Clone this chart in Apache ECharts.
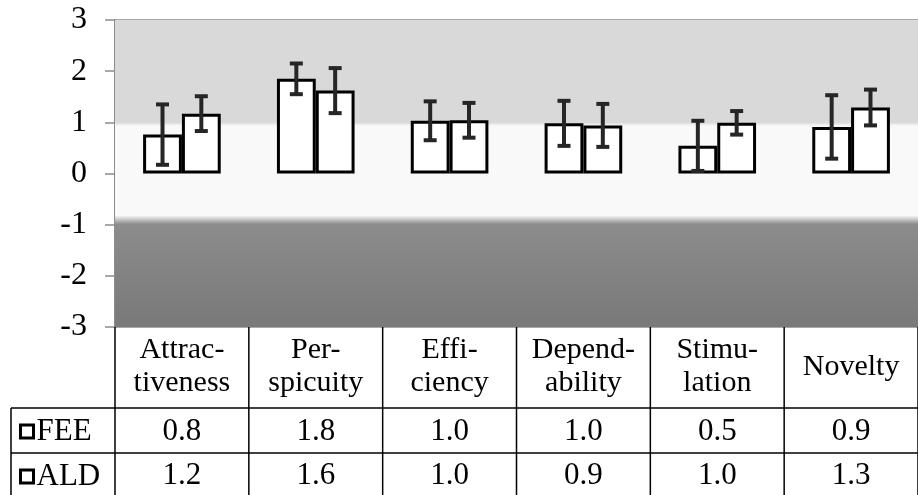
<!DOCTYPE html>
<html>
<head>
<meta charset="utf-8">
<script src="https://cdn.jsdelivr.net/npm/echarts@6/dist/echarts.min.js"></script>
<style>
html,body{margin:0;padding:0;background:#fff;}
#chart{width:918px;height:495px;}
</style>
</head>
<body>
<div id="chart"></div>
<script>
// ---- data ----
const categories = ['Attrac-\ntiveness', 'Per-\nspicuity', 'Effi-\nciency', 'Depend-\nability', 'Stimu-\nlation', 'Novelty'];
const seriesNames = ['FEE', 'ALD'];
const feeMean = [0.76, 1.85, 1.03, 0.98, 0.54, 0.91];
const feeErr  = [0.59, 0.30, 0.38, 0.44, 0.49, 0.62];
const aldMean = [1.17, 1.62, 1.04, 0.94, 0.99, 1.29];
const aldErr  = [0.34, 0.44, 0.34, 0.42, 0.23, 0.35];
const feeTable = ['0.8', '1.8', '1.0', '1.0', '0.5', '0.9'];
const aldTable = ['1.2', '1.6', '1.0', '0.9', '1.0', '1.3'];
const yMin = -3, yMax = 3, yInterval = 1;

// ---- layout / style ----
const FONT = 'Liberation Serif';
const gridLeft = 115, gridTop = 20, gridWidth = 810, gridHeight = 307;
const gridBottomY = gridTop + gridHeight;
const row1Top = 408, row2Top = 453, tableLeft = 11, tableRight = gridLeft + gridWidth, tableBottom = 500;
const barFrac = 0.29;

function off(v) { return (yMax - v) / (yMax - yMin); }
const bgGradient = {
  type: 'linear', x: 0, y: 0, x2: 0, y2: 1,
  colorStops: [
    { offset: 0, color: '#d9d9d9' },
    { offset: off(1.0), color: '#d9d9d9' },
    { offset: off(0.93), color: '#f9f9f9' },
    { offset: off(-0.82), color: '#f9f9f9' },
    { offset: off(-0.99), color: '#8c8c8c' },
    { offset: 1, color: '#797979' }
  ]
};

function errData(mean, err) {
  return mean.map((m, i) => [i, m - err[i], m + err[i]]);
}
function errRender(side) {
  return function (params, api) {
    const cat = api.value(0);
    const lo = api.coord([cat, api.value(1)]);
    const hi = api.coord([cat, api.value(2)]);
    const bw = api.size([1, 0])[0] * barFrac;
    const x = lo[0] + side * bw / 2;
    const cap = 6.5;
    const st = { stroke: '#262626', lineWidth: 4 };
    return {
      type: 'group',
      children: [
        { type: 'line', shape: { x1: x, y1: lo[1], x2: x, y2: hi[1] }, style: st },
        { type: 'line', shape: { x1: x - cap, y1: lo[1], x2: x + cap, y2: lo[1] }, style: st },
        { type: 'line', shape: { x1: x - cap, y1: hi[1], x2: x + cap, y2: hi[1] }, style: st }
      ]
    };
  };
}

const labelBase = { fontFamily: FONT, fontSize: 30, color: '#000' };
const numLabel = { fontFamily: FONT, fontSize: 31, color: '#000' };
const tableLine = { stroke: '#000', lineWidth: 1.5 };

const chart = echarts.init(document.getElementById('chart'), null, { renderer: 'canvas' });
chart.setOption({
  animation: false,
  backgroundColor: '#fff',
  grid: { left: gridLeft, top: gridTop, width: gridWidth, height: gridHeight, containLabel: false },
  legend: {
    data: seriesNames,
    orient: 'vertical',
    left: 19, top: 416,
    padding: 0,
    itemGap: 14,
    itemWidth: 13, itemHeight: 13,
    icon: 'rect',
    itemStyle: { color: '#fff', borderColor: '#000', borderWidth: 3 },
    textStyle: Object.assign({ lineHeight: 30, padding: [0, 0, 0, -2] }, labelBase, { fontSize: 31 })
  },
  xAxis: [
    {
      type: 'category', data: categories, position: 'bottom',
      axisLine: { lineStyle: { color: '#000', width: 1.5 } },
      axisTick: { show: false },
      axisLabel: Object.assign({ margin: 40, lineHeight: 33, verticalAlign: 'middle', interval: 0 }, labelBase),
      splitLine: { show: false }
    },
    {
      type: 'category', data: categories, position: 'bottom',
      axisLine: { show: false }, axisTick: { show: false },
      axisLabel: Object.assign({ margin: 105, verticalAlign: 'middle', interval: 0,
        formatter: (v, i) => feeTable[i] }, numLabel)
    },
    {
      type: 'category', data: categories, position: 'bottom',
      axisLine: { show: false }, axisTick: { show: false },
      axisLabel: Object.assign({ margin: 149, verticalAlign: 'middle', interval: 0,
        formatter: (v, i) => aldTable[i] }, numLabel)
    }
  ],
  yAxis: {
    type: 'value', min: yMin, max: yMax, interval: yInterval,
    axisLine: { show: true, lineStyle: { color: '#8c8c8c', width: 2 } },
    axisTick: { show: true, length: 10, lineStyle: { color: '#8c8c8c', width: 1.5 } },
    axisLabel: Object.assign({ margin: 28 }, numLabel, { fontSize: 32 }),
    splitLine: { show: true, lineStyle: { color: '#8c8c8c', width: 1.5 } }
  },
  series: [
    {
      name: 'bg', type: 'line', data: [], z: -1, silent: true,
      markArea: { silent: true, itemStyle: { color: bgGradient }, data: [[{ yAxis: yMax }, { yAxis: yMin }]] }
    },
    {
      name: seriesNames[0], type: 'bar', data: feeMean, barWidth: (barFrac * 100) + '%', barGap: '0%',
      itemStyle: { color: '#fff', borderColor: '#000', borderWidth: 3 }
    },
    {
      name: seriesNames[1], type: 'bar', data: aldMean, barWidth: (barFrac * 100) + '%', barGap: '0%',
      itemStyle: { color: '#fff', borderColor: '#000', borderWidth: 3 }
    },
    { name: 'FEE err', type: 'custom', data: errData(feeMean, feeErr), renderItem: errRender(-1), z: 5,
      encode: { x: 0, y: [1, 2] } },
    { name: 'ALD err', type: 'custom', data: errData(aldMean, aldErr), renderItem: errRender(1), z: 5,
      encode: { x: 0, y: [1, 2] } }
  ]
});

// table borders: column boundaries derived from the category axis
const c0 = chart.convertToPixel({ xAxisIndex: 0 }, 0);
const c1 = chart.convertToPixel({ xAxisIndex: 0 }, 1);
const band = c1 - c0;
const tableGraphics = [
  { type: 'line', shape: { x1: tableLeft, y1: row1Top, x2: tableRight, y2: row1Top }, style: tableLine, z: 10 },
  { type: 'line', shape: { x1: tableLeft, y1: row2Top, x2: tableRight, y2: row2Top }, style: tableLine, z: 10 },
  { type: 'line', shape: { x1: tableLeft, y1: row1Top, x2: tableLeft, y2: tableBottom }, style: tableLine, z: 10 }
];
for (let i = 0; i <= categories.length; i++) {
  const x = c0 + (i - 0.5) * band;
  tableGraphics.push({ type: 'line', shape: { x1: x, y1: gridBottomY, x2: x, y2: tableBottom }, style: tableLine, z: 10 });
}
chart.setOption({ graphic: tableGraphics });
</script>
</body>
</html>
